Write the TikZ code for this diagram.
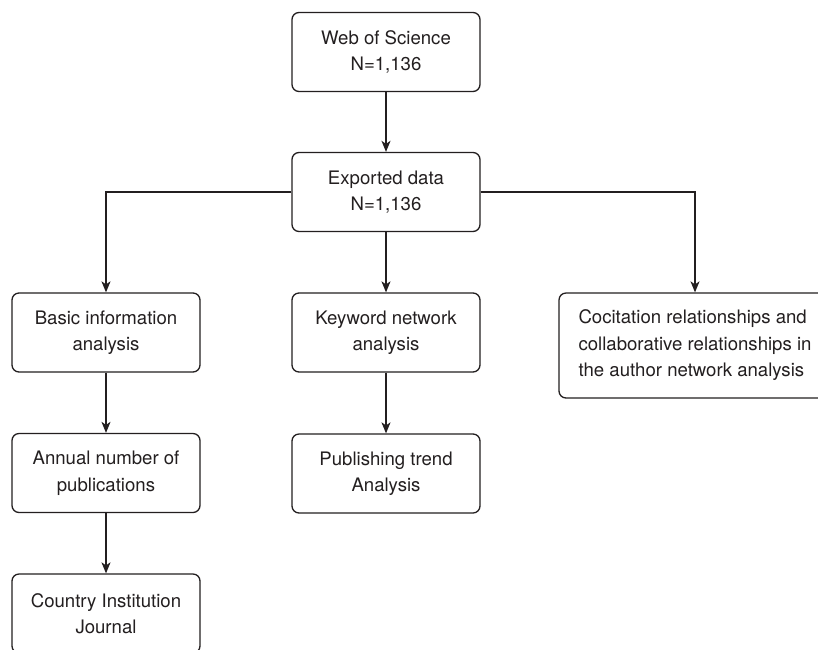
\documentclass[tikz,border=0pt]{standalone}
\usepackage{fontspec}
\setmainfont{TeX Gyre Heros}
\usetikzlibrary{arrows.meta}
\definecolor{ink}{HTML}{231F20}
\begin{document}
\begin{tikzpicture}[x=1pt,y=-1pt,
  box/.style={draw=ink, line width=1.3pt, rounded corners=7pt, minimum width=188pt, minimum height=79pt, inner sep=0pt, align=center, text=ink, font=\fontsize{18.6}{26.5}\selectfont},
  conn/.style={draw=ink, line width=1.3pt, -{Stealth[length=11pt,width=9pt,inset=3pt]}}]
\useasboundingbox (0,0) rectangle (818,649);
\clip (0,0) rectangle (818,649);
\fill[white] (0,0) rectangle (818,649);
\node[box] (wos) at (386,52) {Web of Science\\N=1,136};
\node[box] (exp) at (386,192) {Exported data\\N=1,136};
\node[box] (basic) at (106,332.5) {Basic information\\analysis};
\node[box] (key) at (386,332.5) {Keyword network\\analysis};
\node[box, minimum width=272pt, minimum height=105pt, align=left] (cocit) at (695,345.5) {Cocitation relationships and\\collaborative relationships in\\the author network analysis};
\node[box] (annual) at (106,473) {Annual number of\\publications};
\node[box] (pub) at (386,473.5) {Publishing trend\\Analysis};
\node[box] (country) at (106,613.5) {Country Institution\\Journal};
\draw[conn] (wos) -- (exp);
\draw[conn] (exp.west) -| (basic.north);
\draw[conn] (exp) -- (key);
\draw[conn] (exp.east) -| (cocit.north);
\draw[conn] (basic) -- (annual);
\draw[conn] (annual) -- (country);
\draw[conn] (key) -- (pub);
\end{tikzpicture}
\end{document}
